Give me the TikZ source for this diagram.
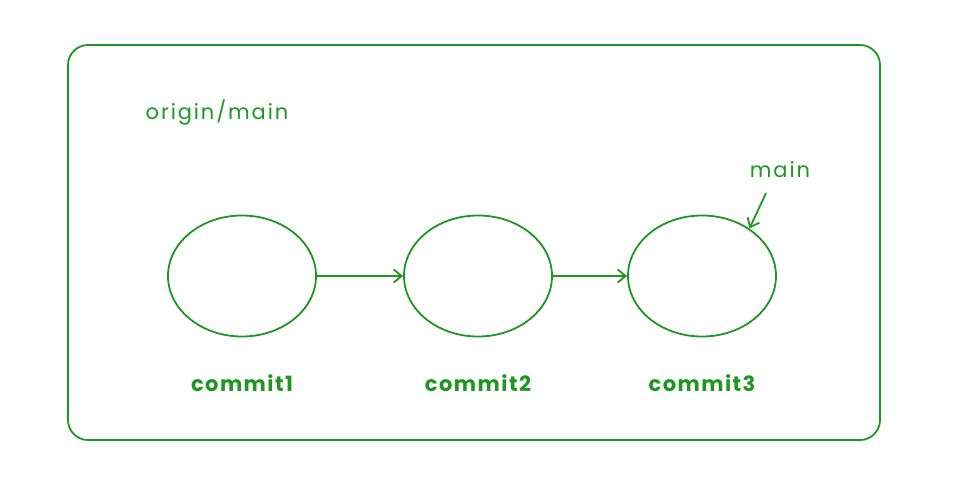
\documentclass[tikz,border=0pt]{standalone}
\usepackage{fontspec}
\setmainfont{Poppins}
\usetikzlibrary{shapes,arrows,arrows.meta,positioning}
\definecolor{sketchgreen}{RGB}{30,150,34}

\begin{document}
\begin{tikzpicture}[x=1pt,y=-1pt,
        commit/.style={draw=sketchgreen,line width=1.8pt,ellipse,minimum width=148pt,minimum height=121pt,inner sep=0pt},
        lbl/.style={text=sketchgreen,font=\fontsize{21}{24}\selectfont\bfseries\addfontfeature{LetterSpace=7},inner sep=0pt},
        tag/.style={text=sketchgreen,font=\fontsize{21}{24}\selectfont\addfontfeature{LetterSpace=9},inner sep=0pt},
        link/.style={draw=sketchgreen,line width=1.8pt,-{Straight Barb[length=8pt,width=13pt]}}]
        \useasboundingbox (0,0) rectangle (965,492);
        % Frame:
        \draw [sketchgreen,line width=1.8pt,rounded corners=20pt] (68,45) rectangle (880,440);
        %commits
        \foreach \n/\x in {1/242, 2/478, 3/702}{
            \node [commit] (c\n) at (\x,276) {};
            \node [lbl] (l\n) at (\x,383) {commit\n};
        }
        \node [tag] (origin) at (217,112) {origin/main};
        \node [tag] (main) at (780,170) {main};

        \draw [link] (c1.east) -- (c2.west);
        \draw [link] (c2.east) -- (c3.west);
        \coordinate (mainend) at (766,193);
        \draw [link] (mainend) -- (c3.45);
    \end{tikzpicture}
\end{document}
